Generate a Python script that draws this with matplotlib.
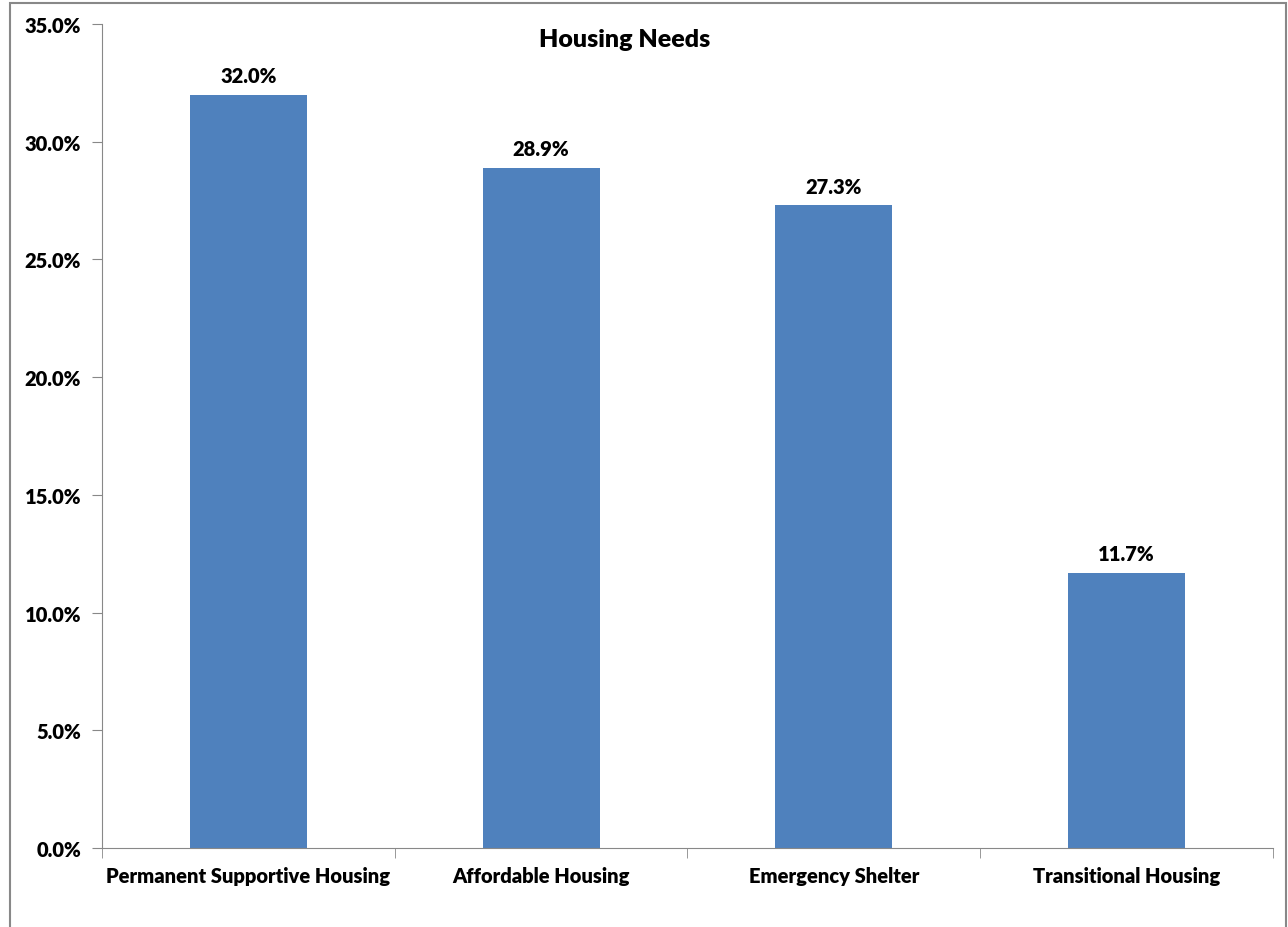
import matplotlib.pyplot as plt
from matplotlib.patches import Rectangle
from matplotlib.ticker import FuncFormatter, MultipleLocator

# data
categories = ['Permanent Supportive Housing', 'Affordable Housing',
              'Emergency Shelter', 'Transitional Housing']
values = [32.0, 28.9, 27.3, 11.7]

plt.rcParams['font.family'] = ['Lato', 'DejaVu Sans']
plt.rcParams['font.weight'] = 'heavy'

fig = plt.figure(figsize=(12.88, 9.28), dpi=100)
ax = fig.add_axes([0.0792, 0.0851, 0.9091, 0.8879])

x = range(len(categories))
bars = ax.bar(x, values, width=0.4, color='#4F81BD')

for b, v in zip(bars, values):
    ax.annotate('%.1f%%' % v, (b.get_x() + b.get_width() / 2, v),
                xytext=(0, 7), textcoords='offset points',
                ha='center', va='bottom', fontsize=14.5)

ax.set_xlim(-0.5, len(categories) - 0.5)
ax.set_ylim(0, 35)
ax.yaxis.set_major_locator(MultipleLocator(5))
ax.yaxis.set_major_formatter(FuncFormatter(lambda v, p: '%.1f%%' % v))

ax.set_xticks(list(x))
ax.set_xticklabels(categories)
ax.set_xticks([i + 0.5 for i in range(-1, len(categories))], minor=True)
ax.tick_params(axis='x', which='major', length=0, pad=13, labelsize=14.5)
ax.tick_params(axis='x', which='minor', length=7, color='#888888', direction='out')
ax.tick_params(axis='y', length=7, color='#888888', labelsize=14.5, pad=8)

for s in ['top', 'right']:
    ax.spines[s].set_visible(False)
for s in ['left', 'bottom']:
    ax.spines[s].set_color('#888888')

fig.text(0.485, 1 - 40 / 928, 'Housing Needs', ha='center', va='center',
         fontsize=18)

# outer chart border (bottom edge runs off the image, as in the original)
fig.patches.append(Rectangle((10 / 1288, -0.01), 1276 / 1288, 1.01 - 4 / 928,
                             transform=fig.transFigure, fill=False,
                             edgecolor='#888888', linewidth=1.5))

fig.savefig('out.png', dpi=100)
